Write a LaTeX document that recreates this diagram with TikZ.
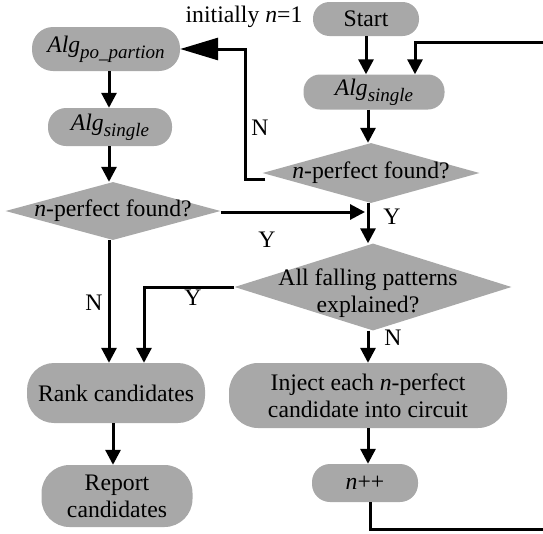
\documentclass[tikz,border=0pt]{standalone}
\usepackage{fontspec}
\setmainfont{Liberation Serif}
\usetikzlibrary{shapes.geometric,arrows.meta,calc}
\definecolor{boxgray}{RGB}{168,168,168}
\newcommand\algwith[1]{\textit{Alg}\raisebox{-6pt}{\fontsize{19}{19}\selectfont\textit{#1}}}
\begin{document}
\begin{tikzpicture}[x=1pt,y=-1pt,
  font=\fontsize{23.7}{27}\selectfont,
  rbox/.style={rectangle, fill=boxgray, inner sep=0pt, align=center, rounded corners=#1},
  rbox/.default=16.5pt,
  dia/.style={diamond, fill=boxgray, inner sep=0pt},
  txt/.style={inner sep=0pt, align=center},
  conn/.style={line width=3pt, -{Triangle[length=15pt,width=15pt]}},
  bigconn/.style={line width=3pt, -{Triangle[length=38pt,width=22pt]}},
  plain/.style={line width=3pt},
]
\useasboundingbox (0,0) rectangle (543,533);

% columns
\coordinate (cL) at (109,0);
\coordinate (cL2) at (113,0);
\coordinate (cR) at (368,0);
\coordinate (cY) at (144,0);
\coordinate (fbIn) at (415,0);
\coordinate (fbBR) at (549,529);
\coordinate (fbTR) at (549,42);
\coordinate (yj) at (365,212);

% right column
\node[rbox, minimum width=106pt, minimum height=34pt] (start) at (366,19) {Start};
\node[rbox, minimum width=141pt, minimum height=35pt] (algR) at (374,92) {\algwith{single}};
\node[dia, minimum width=217pt, minimum height=60pt] (d1) at (371,173) {};
\node[txt] (d1t) at (d1) {\textit{n}-perfect found?};
\node[dia, minimum width=277pt, minimum height=87pt] (d3) at (373,287) {};
\node[txt] (d3t) at (368,293) {All falling patterns\\explained?};
\node[rbox=29pt, minimum width=278pt, minimum height=65pt] (inject) at (368,395.5) {Inject each \textit{n}-perfect\\candidate into circuit};
\node[rbox=18pt, minimum width=106pt, minimum height=38pt] (npp) at (365,483) {\textit{n}++};

% left column
\node[rbox=21pt, minimum width=148pt, minimum height=44pt] (algP) at (106,49) {\algwith{po\_partion}};
\node[rbox=18pt, minimum width=124pt, minimum height=38pt] (algL) at (110,127) {\algwith{single}};
\node[dia, minimum width=215pt, minimum height=58pt] (d2) at (113,211) {};
\node[txt] (d2t) at (d2) {\textit{n}-perfect found?};
\node[rbox=27pt, minimum width=178pt, minimum height=60pt] (rank) at (116,393) {Rank candidates};
\node[rbox=28pt, minimum width=151pt, minimum height=62pt] (report) at (117,496) {Report\\candidates};

% labels
\node[txt] (lblInit) at (244,17) {initially \textit{n}=1};
\node[txt] (lblN1) at (260,128) {N};
\node[txt] (lblY1) at (267,240) {Y};
\node[txt] (lblY2) at (392,217) {Y};
\node[txt] (lblY3) at (193,298) {Y};
\node[txt] (lblN2) at (94,303) {N};
\node[txt] (lblN3) at (393,338) {N};

% connectors right column
\draw[conn] (start.south) -- (start.south |- algR.north);
\draw[conn] (algR.south -| cR) -- (d1.north -| cR);
\draw[conn] (d1.south -| cR) -- (d3.north -| cR);
\draw[conn] (d3.south -| cR) -- (inject.north -| cR);
\draw[conn] (inject.south -| cR) -- (npp.north -| cR);
\draw[conn] ([xshift=5pt]npp.south) |- (fbBR) -- (fbTR) -| (algR.north -| fbIn);

% N from right diamond to Alg_po_partion
\draw[bigconn] ([yshift=-6pt,xshift=3pt]d1.west) -- ++(-20,0) |- (algP.east);

% left column
\draw[conn] (algP.south -| cL) -- (algL.north -| cL);
\draw[conn] (algL.south -| cL) -- (d2.north -| cL);
\draw[conn] (d2.south -| cL) -- (rank.north -| cL);
\draw[conn] (rank.south -| cL2) -- (report.north -| cL2);

% Y from left diamond
\draw[conn] (d2.east |- yj) -- (yj);
% Y from All falling
\draw[conn] (d3.west) -| (rank.north -| cY);
\end{tikzpicture}
\end{document}
